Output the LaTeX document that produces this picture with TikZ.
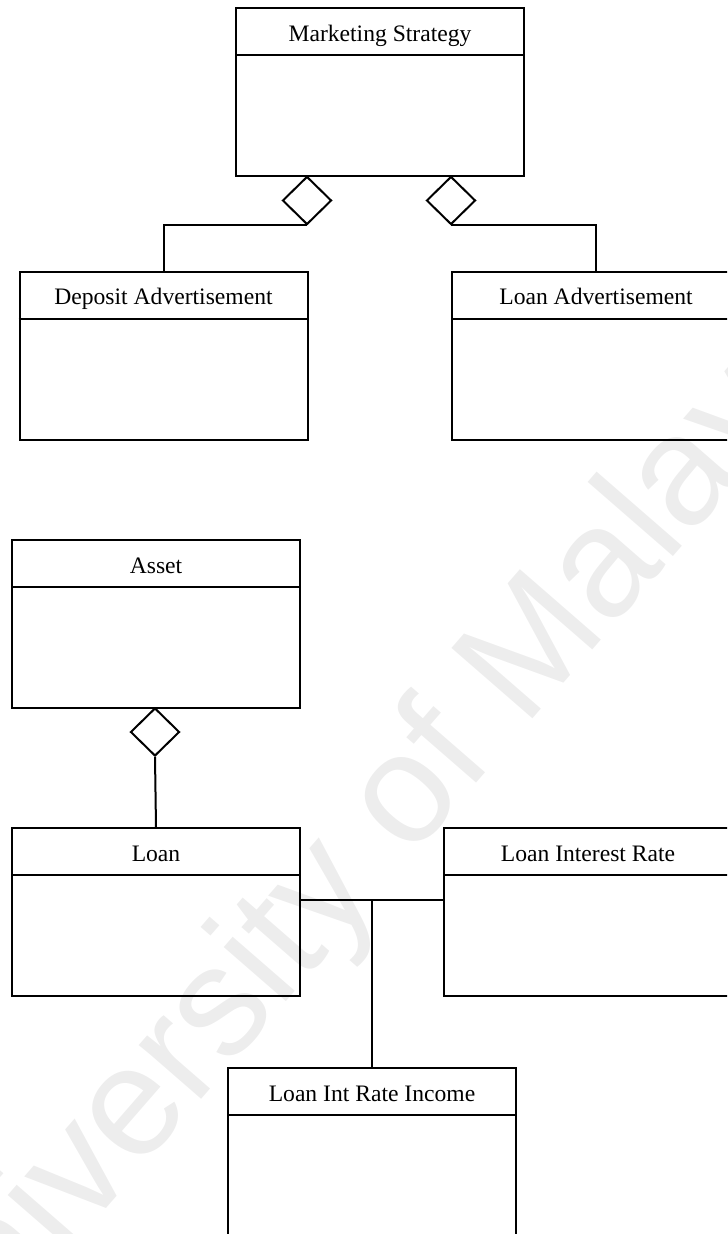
\documentclass[tikz,border=0pt]{standalone}
\usepackage{fontspec}
\setmainfont{Liberation Serif}
\newfontfamily\wmfont{Liberation Sans}
\usetikzlibrary{shapes.geometric}

% A UML class: name, left x, top y, class name
\newcommand{\umlclass}[4]{%
  \node[classbox] (#1) at (#2,#3) {};
  \draw[link] ([yshift=-24pt]#1.north west) -- ([yshift=-24pt]#1.north east);
  \node[classname] (#1-name) at ([yshift=-17pt]#1.north) {#4};
}

\begin{document}
\begin{tikzpicture}[x=0.5pt,y=-0.5pt,
  classbox/.style={draw, line width=1pt, rectangle, minimum width=144pt,
    minimum height=84pt, inner sep=0pt, anchor=north west},
  aggr/.style={draw, line width=1pt, diamond, inner sep=0pt,
    minimum width=24.5pt, minimum height=24pt, anchor=north},
  link/.style={line width=1pt},
  classname/.style={font=\fontsize{11.8}{14}\selectfont, anchor=base, inner sep=0pt},
  watermark/.style={font=\wmfont\fontsize{78}{90}\selectfont, text=black!7,
    rotate=49, inner sep=0pt}]

\useasboundingbox (0,0) rectangle (727,1234);
\clip (0,0) rectangle (727,1234);

% background watermark
\node[watermark] (wm) at (363,852) {University of Malaya};

% marketing part
\umlclass{ms}{235}{7.5}{Marketing Strategy}
\umlclass{dep}{18.5}{271}{Deposit Advertisement}
\umlclass{lad}{451}{271}{Loan Advertisement}

\node[aggr] (dms) at (307,175.5) {};
\node[aggr] (lms) at (451,175.5) {};
\draw[link] (dms.south) -| (dep.north);
\draw[link] (lms.south) -| (lad.north);

% asset part
\umlclass{asset}{11}{539}{Asset}
\umlclass{loan}{11}{827}{Loan}
\umlclass{lir}{443}{827}{Loan Interest Rate}
\umlclass{inc}{227}{1067}{Loan Int Rate Income}

\node[aggr] (dasset) at (155,707) {};
\draw[link] (dasset.south) -- (loan.north);

\path ([yshift=6pt]loan.east) coordinate (la);
\coordinate (junction) at (inc.north |- la);
\draw[link] (la) -- (la -| lir.west);
\draw[link] (junction) -- (inc.north);

\end{tikzpicture}
\end{document}
